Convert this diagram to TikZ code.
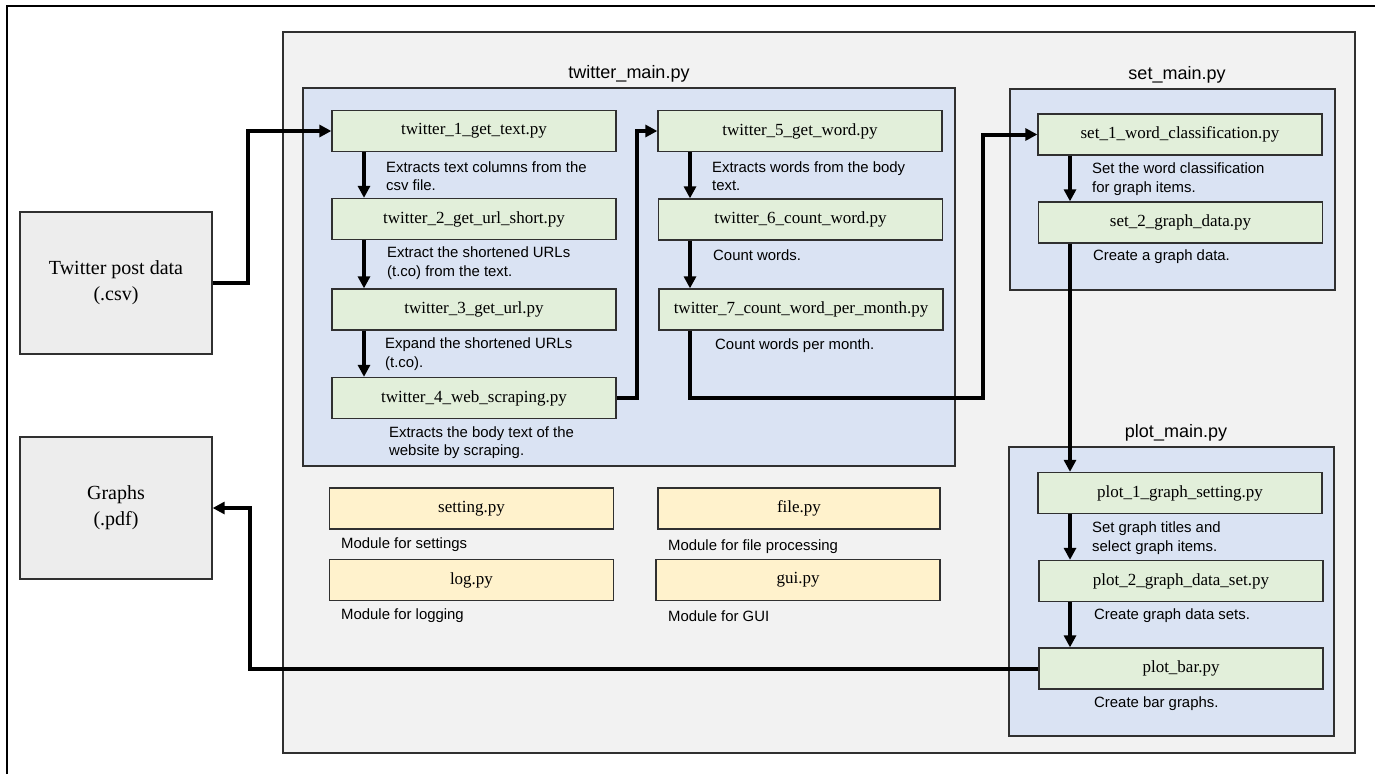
\documentclass[tikz,border=0pt]{standalone}
\usepackage{fontspec}
\setmainfont{Liberation Serif}
\setsansfont{Liberation Sans}
\usetikzlibrary{arrows.meta}
\definecolor{greyfill}{HTML}{F2F2F2}
\definecolor{iofill}{HTML}{EDEDED}
\definecolor{bluefill}{HTML}{DAE3F3}
\definecolor{greenfill}{HTML}{E2EFDA}
\definecolor{yellowfill}{HTML}{FFF2CC}
\definecolor{edge}{HTML}{303030}
\tikzset{
  frame/.style={draw=edge, line width=1.3pt},
  container/.style={frame, fill=greyfill},
  bluebox/.style={frame, fill=bluefill},
  iobox/.style={frame, fill=iofill, minimum width=192pt, minimum height=142pt, align=center, font=\fontsize{20}{26}\selectfont, inner sep=0pt},
  pybox/.style={frame, fill=greenfill, minimum width=284pt, minimum height=41pt, font=\fontsize{17}{20}\selectfont, inner sep=0pt},
  modbox/.style={pybox, fill=yellowfill},
  desc/.style={anchor=west, align=left, font=\sffamily\fontsize{14.9}{18.3}\selectfont, inner sep=0pt},
  ttl/.style={font=\sffamily\fontsize{18}{22}\selectfont, inner sep=0pt},
  conn/.style={line width=4pt, -{Triangle[length=12pt,width=12pt]}},
  line/.style={line width=4pt}
}
\begin{document}
\begin{tikzpicture}[x=1pt,y=-1pt]
\useasboundingbox (0,0) rectangle (1375,774);
% outer frame (cut by the page edges)
\draw[frame, line width=1.5pt, draw=black] (7,774) -- (7,6) -- (1375,6);
% main container
\draw[container] (283,32) rectangle (1355,753);
% blue groups
\draw[bluebox] (303,88) rectangle (955,466);
\node[ttl] (ttw) at (629,74) {twitter\_main.py};
\draw[bluebox] (1010,89) rectangle (1335,290);
\node[ttl] (tset) at (1177,75) {set\_main.py};
\draw[bluebox] (1009,447) rectangle (1334,736);
\node[ttl] (tplot) at (1176,433) {plot\_main.py};

% input / output
\node[iobox] (csv) at (116,283) {Twitter post data\\(.csv)};
\node[iobox] (graphs) at (116,508) {Graphs\\(.pdf)};

% twitter column 1
\node[pybox] (t1) at (474,131) {twitter\_1\_get\_text.py};
\node[pybox] (t2) at (474,219) {twitter\_2\_get\_url\_short.py};
\node[pybox] (t3) at (474,309.5) {twitter\_3\_get\_url.py};
\node[pybox] (t4) at (474,398) {twitter\_4\_web\_scraping.py};
\node[desc] (d1) at (386,176) {Extracts text columns from the\\csv file.};
\node[desc] (d2) at (387,263) {Extract the shortened URLs\\(t.co) from the text.};
\node[desc] (d3) at (385,354) {Expand the shortened URLs\\(t.co).};
\node[desc] (d4) at (389,442.5) {Extracts the body text of the\\website by scraping.};

% twitter column 2
\node[pybox] (t5) at (800,131) {twitter\_5\_get\_word.py};
\node[pybox] (t6) at (800.5,219.5) {twitter\_6\_count\_word.py};
\node[pybox] (t7) at (801,309.5) {twitter\_7\_count\_word\_per\_month.py};
\node[desc] (d5) at (712,176) {Extracts words from the body\\text.};
\node[desc] (d6) at (713,255) {Count words.};
\node[desc] (d7) at (715,346) {Count words per month.};

% set
\node[pybox] (s1) at (1180,134.5) {set\_1\_word\_classification.py};
\node[pybox] (s2) at (1180.5,222.5) {set\_2\_graph\_data.py};
\node[desc] (d8) at (1092,179) {Set the word classification\\for graph items.};
\node[desc] (d9) at (1093,257) {Create a graph data.};

% plot
\node[pybox] (p1) at (1180,493) {plot\_1\_graph\_setting.py};
\node[pybox] (p2) at (1181,581) {plot\_2\_graph\_data\_set.py};
\node[pybox] (pb) at (1181,668.5) {plot\_bar.py};
\node[desc] (d10) at (1092,538) {Set graph titles and\\select graph items.};
\node[desc] (d11) at (1094,616) {Create graph data sets.};
\node[desc] (d12) at (1094,704) {Create bar graphs.};

% modules
\node[modbox] (mset) at (471.5,508.5) {setting.py};
\node[modbox, minimum width=282pt] (mfile) at (799,508.5) {file.py};
\node[modbox] (mlog) at (471.5,580) {log.py};
\node[modbox] (mgui) at (798,580) {gui.py};
\node[desc] (dm1) at (341,545) {Module for settings};
\node[desc] (dm2) at (668,547) {Module for file processing};
\node[desc] (dm3) at (341,616) {Module for logging};
\node[desc] (dm4) at (668,616) {Module for GUI};

% helper coordinates
\coordinate (colA) at (364,0);
\coordinate (colB) at (690,0);
\coordinate (colC) at (1070,0);
\coordinate (j0) at (248,283);
\coordinate (j1) at (637,398);
\coordinate (j2) at (250,668.5);
\coordinate (b1) at (983,398);

% connectors
\draw[conn] (csv.east) -- (j0) |- (t1.west);
\draw[conn] (t1.south -| colA) -- (t2.north -| colA);
\draw[conn] (t2.south -| colA) -- (t3.north -| colA);
\draw[conn] (t3.south -| colA) -- (t4.north -| colA);
\draw[conn] (t4.east) -- (j1) |- (t5.west);
\draw[conn] (t5.south -| colB) -- (t6.north -| colB);
\draw[conn] (t6.south -| colB) -- (t7.north -| colB);
\draw[conn] (t7.south -| colB) |- (b1) |- (s1.west);
\draw[conn] (s1.south -| colC) -- (s2.north -| colC);
\draw[conn] (s2.south -| colC) -- (p1.north -| colC);
\draw[conn] (p1.south -| colC) -- (p2.north -| colC);
\draw[conn] (p2.south -| colC) -- (pb.north -| colC);
\draw[conn] (pb.west) -- (j2) |- (graphs.east);
\end{tikzpicture}
\end{document}
